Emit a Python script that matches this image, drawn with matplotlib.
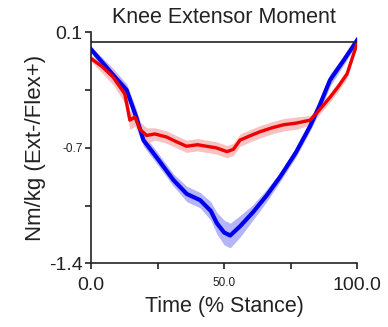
import numpy as np
import matplotlib
matplotlib.use('Agg')
import matplotlib.pyplot as plt

plt.rcParams['font.family'] = ['Liberation Sans', 'DejaVu Sans']

# blue group: mean curve and band half-width
blue_x = [0, 4, 8, 13.4, 17, 19.7, 25, 31, 36, 41, 45, 47.3, 50, 52.3, 56, 60.8, 66, 71, 77, 82.3, 86, 89.8, 95, 100]
blue_y = [-0.01, -0.09, -0.17, -0.275, -0.45, -0.60, -0.72, -0.86, -0.95, -0.99, -1.06, -1.14, -1.20, -1.22, -1.16, -1.07, -0.96, -0.84, -0.68, -0.51, -0.37, -0.21, -0.08, 0.05]
blue_sd = [0.02, 0.03, 0.04, 0.04, 0.05, 0.04, 0.04, 0.04, 0.05, 0.05, 0.06, 0.07, 0.08, 0.08, 0.07, 0.05, 0.04, 0.03, 0.03, 0.03, 0.04, 0.04, 0.03, 0.02]

# red group
red_x = [0, 4, 8.3, 12.7, 14.6, 16.5, 18.4, 20.9, 24, 28.4, 32, 35.9, 40, 43.4, 47, 51.1, 53.5, 56, 60, 63.6, 68, 72.4, 77, 82.4, 86, 89.9, 93, 96.2, 100]
red_y = [-0.07, -0.12, -0.19, -0.30, -0.47, -0.45, -0.53, -0.57, -0.56, -0.58, -0.61, -0.64, -0.63, -0.64, -0.65, -0.675, -0.66, -0.60, -0.57, -0.545, -0.52, -0.50, -0.49, -0.47, -0.40, -0.32, -0.25, -0.17, 0.03]
red_sd = [0.02, 0.04, 0.05, 0.06, 0.06, 0.06, 0.05, 0.05, 0.04, 0.04, 0.04, 0.04, 0.04, 0.04, 0.04, 0.04, 0.04, 0.04, 0.04, 0.04, 0.04, 0.04, 0.04, 0.03, 0.03, 0.03, 0.03, 0.03, 0.02]

xticks = [0, 25, 50, 75, 100]
xlabels = ['0.0', '', '50.0', '', '100.0']
yticks = [0.1, -0.275, -0.65, -1.025, -1.4]
ylabels = ['0.1', '', '-0.7', '', '-1.4']

fig = plt.figure(figsize=(3.88, 3.27), dpi=100)
ax = fig.add_axes([0.2345, 0.195, 0.686, 0.706])

bx, by, bs = np.array(blue_x), np.array(blue_y), np.array(blue_sd)
rx, ry, rs = np.array(red_x), np.array(red_y), np.array(red_sd)

ax.fill_between(bx, by - bs, by + bs, color='#b4b4f6', lw=0)
ax.fill_between(rx, ry - rs, ry + rs, color='#f6b8b8', lw=0, alpha=0.85)
ax.plot(bx, by, color='#0000ee', lw=3)
ax.plot(rx, ry, color='#ee0000', lw=2.4)

ax.axhline(0.035, xmin=0, xmax=1, color='#222222', lw=1.2)

ax.set_xlim(0, 100)
ax.set_ylim(-1.4, 0.1)
for s in ['top', 'right']:
    ax.spines[s].set_visible(False)
for s in ['left', 'bottom']:
    ax.spines[s].set_linewidth(1.2)
    ax.spines[s].set_color('#222222')

ax.set_xticks(xticks)
ax.set_xticklabels(xlabels)
ax.set_yticks(yticks)
ax.set_yticklabels(ylabels)
ax.tick_params(direction='out', length=4, width=1.2, colors='#222222')
ax.tick_params(axis='x', pad=6)
ax.tick_params(axis='y', pad=2)
for t in ax.get_xticklabels() + ax.get_yticklabels():
    t.set_color('#222222')
    t.set_fontsize(14 if t.get_text() in ('0.0', '100.0', '0.1', '-1.4') else 8.5)

ax.set_title('Knee Extensor Moment', fontsize=15.5, color='#222222', pad=7)
ax.set_xlabel('Time (% Stance)', fontsize=15.5, color='#222222', labelpad=1)
ax.set_ylabel('Nm/kg (Ext-/Flex+)', fontsize=16, color='#222222', labelpad=2)

fig.savefig('out.png', dpi=100)
